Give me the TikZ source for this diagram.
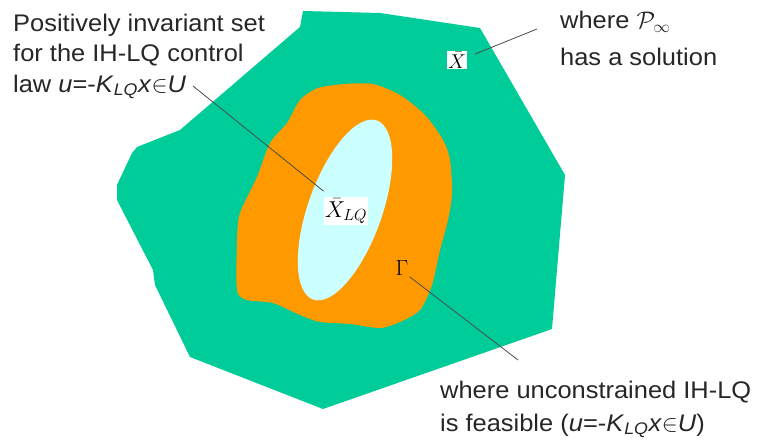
\RequirePackage{fix-cm}
\documentclass[tikz,border=0pt]{standalone}
\usepackage{fontspec}
\setmainfont[FakeStretch=1.06]{Liberation Sans}
\usepackage{tikz}
\usetikzlibrary{positioning,calc}
\definecolor{regiongreen}{RGB}{0,204,153}
\definecolor{regionorange}{RGB}{255,153,0}
\definecolor{regioncyan}{RGB}{204,255,255}
\tikzset{
  labeltext/.style={anchor=base west,inner sep=0pt,text=black!85,font=\fontsize{24}{30}\selectfont},
  leader/.style={draw=black!70,line width=.8pt}
}

\begin{document}
\begin{tikzpicture}[
  x=1pt,
  y=-1pt,
  setlabel/.style={
    fill=white,
    inner sep=1pt,
    font=\fontsize{20}{22}\selectfont
  },
  setname/.style={
    inner sep=1pt,
    font=\fontsize{22}{24}\selectfont
  }
]
  \useasboundingbox (0,0) rectangle (759,444);

  % --------------------------------------------------------------
  % The three nested regions.
  % --------------------------------------------------------------
  \fill[regiongreen] (303,11) -- (380,13) -- (480,28) -- (565,175)
    -- (552,329) -- (323,409) -- (190,357) -- (155,285) -- (153,270)
    -- (117,200) -- (117,185) -- (132,153) -- (137,147) -- (180,130)
    -- (293,33) -- (300,27) -- cycle;

  \fill[regionorange] plot[smooth cycle,tension=.45] coordinates {
    (300,100) (318,88) (345,84) (373,84) (400,95) (425,115) (443,140)
    (450,160) (452,193) (448,220) (440,250) (432,285) (420,310)
    (400,322) (380,328) (350,324) (320,322) (300,315) (273,303)
    (247,300) (237,290) (237,240) (240,213) (257,177) (270,143)
    (287,123)};

  \fill[regioncyan,rotate around={-19.6:(345,210)}]
    (345,210) ellipse [x radius=37,y radius=95];

  % --------------------------------------------------------------
  % Names of the sets.
  % --------------------------------------------------------------
  \node[setlabel] (xbar) at (457,60) {$\bar{X}$};
  \node[setlabel,font=\fontsize{23}{25}\selectfont] (xlq) at (346,211)
    {$\bar{X}_{LQ}$};
  \node[setname]  (gamma) at (402,268) {$\Gamma$};

  % --------------------------------------------------------------
  % Explanations.
  % --------------------------------------------------------------
  \node[labeltext] (pos1) at (13,32) {Positively invariant set};
  \node[labeltext] (pos2) at (13,62) {for the IH-LQ control};
  \node[labeltext] (pos3) at (13,92)
    {law \textit{u}=-\textit{K}\textsubscript{\textit{LQ}}\textit{x}$\in$\textit{U}};

  \node[labeltext] (sol1) at (560,29) {where $\mathcal{P}_\infty$};
  \node[labeltext] (sol2) at (560,66) {has a solution};

  \node[labeltext] (fea1) at (440,398) {where unconstrained IH-LQ};
  \node[labeltext] (fea2) at (440,431)
    {is feasible (\textit{u}=-\textit{K}\textsubscript{\textit{LQ}}\textit{x}$\in$\textit{U})};

  % --------------------------------------------------------------
  % Leader lines.
  % --------------------------------------------------------------
  \coordinate (lawEnd) at (193,86);
  \coordinate (solEnd) at (537,29);
  \coordinate (feaEnd) at (518,360);

  \draw[leader] (lawEnd) -- ([yshift=6pt]xlq.north west);
  \draw[leader] ([xshift=8pt,yshift=6pt]xbar.east) -- (solEnd);
  \draw[leader] (gamma.south east) -- (feaEnd);

\end{tikzpicture}
\end{document}
